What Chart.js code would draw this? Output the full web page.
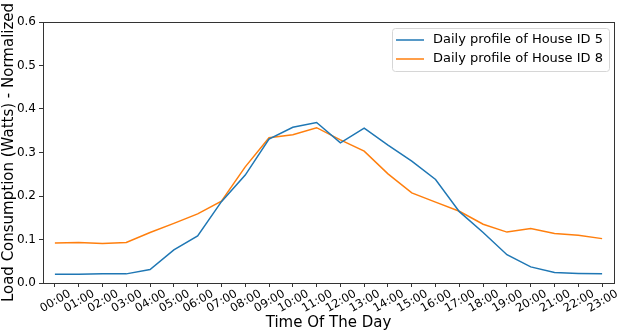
<!DOCTYPE html>
<html>
<head>
<meta charset="utf-8">
<script src="https://cdn.jsdelivr.net/npm/chart.js@4.4.0/dist/chart.umd.min.js"></script>
<style>
html,body{margin:0;padding:0;background:#fff;}
#wrap{width:623px;height:334px;}
</style>
</head>
<body>
<div id="wrap"><canvas id="c" width="623" height="334"></canvas></div>
<script>
const hours = ["00:00","01:00","02:00","03:00","04:00","05:00","06:00","07:00","08:00","09:00","10:00","11:00",
               "12:00","13:00","14:00","15:00","16:00","17:00","18:00","19:00","20:00","21:00","22:00","23:00"];
const house5 = [0.020,0.020,0.021,0.021,0.031,0.076,0.108,0.187,0.248,0.331,0.358,0.369,
                0.322,0.356,0.317,0.280,0.238,0.164,0.116,0.065,0.037,0.024,0.022,0.021];
const house8 = [0.092,0.093,0.091,0.093,0.116,0.137,0.159,0.188,0.267,0.334,0.341,0.357,
                0.329,0.303,0.251,0.207,0.186,0.165,0.135,0.117,0.125,0.114,0.110,0.102];
const seriesNames = ["Daily profile of House ID 5","Daily profile of House ID 8"];
const yTicks = [0.0,0.1,0.2,0.3,0.4,0.5,0.6];
const xTitle = "Time Of The Day";
const yTitle = "Load Consumption (Watts) - Normalized";

const FONT = "'DejaVu Sans', sans-serif";

const framePlugin = {
  id: 'frame',
  afterDraw(chart) {
    const {ctx, chartArea: a} = chart;
    ctx.save();
    ctx.strokeStyle = '#333';
    ctx.lineWidth = 1;
    ctx.strokeRect(Math.round(a.left) + 0.5, Math.round(a.top) + 0.5,
                   Math.round(a.right - a.left), Math.round(a.bottom - a.top));
    // legend
    ctx.font = "13px " + FONT;
    const tw = Math.max(...seriesNames.map(n => ctx.measureText(n).width));
    const w = tw + 47, h = 43;
    const x = a.right - 5 - w, y = a.top + 6;
    ctx.beginPath();
    if (ctx.roundRect) ctx.roundRect(x + 0.5, y + 0.5, w, h, 3); else ctx.rect(x + 0.5, y + 0.5, w, h);
    ctx.fillStyle = 'rgba(255,255,255,0.8)';
    ctx.fill();
    ctx.strokeStyle = '#d6d6d6';
    ctx.stroke();
    const colors = chart.data.datasets.map(d => d.borderColor);
    seriesNames.forEach((n, i) => {
      const ly = y + 12 + i * 19;
      ctx.beginPath();
      ctx.moveTo(x + 4, ly); ctx.lineTo(x + 32, ly);
      ctx.strokeStyle = colors[i]; ctx.lineWidth = 1.5; ctx.stroke();
      ctx.fillStyle = '#000';
      ctx.textBaseline = 'middle';
      ctx.textAlign = 'left';
      ctx.fillText(n, x + 41, ly);
    });
    ctx.restore();
  }
};

new Chart(document.getElementById('c'), {
  type: 'line',
  data: {
    labels: hours,
    datasets: [
      {label: seriesNames[0], data: house5, borderColor: '#1f77b4', borderWidth: 1.5, pointRadius: 0, fill: false, tension: 0},
      {label: seriesNames[1], data: house8, borderColor: '#ff7f0e', borderWidth: 1.5, pointRadius: 0, fill: false, tension: 0}
    ]
  },
  options: {
    responsive: false,
    animation: false,
    layout: {padding: {top: 22, right: 9, left: 0, bottom: 0}},
    plugins: {legend: {display: false}, tooltip: {enabled: false}},
    scales: {
      x: {
        type: 'category',
        offset: true,
        grid: {display: true, drawOnChartArea: false, drawTicks: true, tickLength: 4, color: '#333', offset: false},
        border: {display: true, color: '#333'},
        ticks: {color: '#000', font: {family: FONT, size: 11.5}, minRotation: 30, maxRotation: 30, autoSkip: false, padding: 0, labelOffset: 15},
        title: {display: true, text: xTitle, color: '#000', font: {family: FONT, size: 15}, padding: {top: 0, bottom: 2}},
        afterFit: s => { s.height = 51; }
      },
      y: {
        min: 0, max: 0.6,
        grid: {display: true, drawOnChartArea: false, drawTicks: true, tickLength: 4, color: '#333'},
        border: {display: true, color: '#333'},
        ticks: {
          color: '#000', font: {family: FONT, size: 12}, padding: 3,
          stepSize: 0.1,
          callback: (v) => { const t = yTicks.find(k => Math.abs(k - v) < 1e-9); return t === undefined ? '' : t.toFixed(1); }
        },
        afterBuildTicks: s => { s.ticks = yTicks.map(v => ({value: v})); },
        title: {display: true, text: yTitle, color: '#000', font: {family: FONT, size: 15}, padding: {top: 0, bottom: 2}},
        afterFit: s => { s.width = 43; }
      }
    }
  },
  plugins: [framePlugin]
});
</script>
</body>
</html>
